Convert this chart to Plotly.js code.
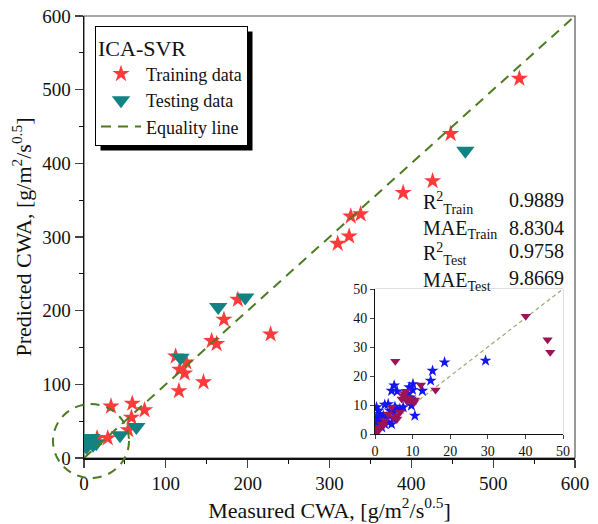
<!DOCTYPE html>
<html>
<head>
<meta charset="utf-8">
<script src="https://cdn.plot.ly/plotly-3.0.1.min.js"></script>
<style>html,body{margin:0;padding:0;background:#fff;}#chart{width:598px;height:524px;}</style>
</head>
<body>
<div id="chart"></div>
<script>
// Main plot data
const trainX = [532, 448, 426, 390, 326, 338, 310, 324, 188, 171, 228, 156, 162, 112, 125, 117, 123, 116, 146, 33, 59, 74, 58, 54, 16, 29];
const trainY = [515, 440, 376, 360, 328, 331, 291, 301, 215, 188, 168, 159, 155, 138, 130, 120, 115, 91, 103, 70, 74, 65, 55, 38, 27, 27];
const testX = [466, 164, 197, 118, 44, 64, 5, 11, 3, 9, 1.5, 15];
const testY = [417, 205, 218, 136, 31, 42, 24, 18, 15, 27, 20, 20];
const equalityLine = [0, 600];

// Inset data (0-50 range)
const insetTrainX = [29.4, 18.5, 15.3, 14.8, 5.1, 10.1, 4.4, 5.9, 10.0, 12.6, 9.1, 10.6, 9.7, 6.6, 5.3, 3.5, 2.6, 4.0, 4.9, 0.4, 0.9, 1.3, 2.2, 0.4, 3.1, 3.5, 4.4, 2.6, 0.6, 0.3, 1.3, 1.8, 4.9, 5.7, 7.5, 8.8, 9.4];
const insetTrainY = [25.3, 24.7, 21.8, 18.4, 16.7, 17.2, 14.9, 14.7, 15.2, 14.9, 16.1, 6.3, 9.8, 8.6, 9.4, 10.3, 10.1, 8.0, 8.0, 9.2, 8.0, 6.9, 6.3, 5.7, 5.7, 4.0, 3.4, 3.4, 4.0, 2.9, 4.6, 2.3, 5.2, 8.3, 9.2, 13.8, 12.6];
const insetTestX = [40.1, 45.9, 46.6, 5.4, 12.2, 16.1, 7.5, 8.2, 8.8, 9.7, 10.4, 9.3, 7.1, 8.4, 10.6, 7.8, 4.4, 3.5, 5.9, 5.9, 6.6, 4.9, 1.3, 0.9, 1.8, 2.2, 0.4, 2.6, 1.1];
const insetTestY = [40.6, 32.5, 28.2, 25.1, 16.9, 15.2, 13.2, 14.7, 12.6, 12.1, 10.9, 11.3, 12.1, 11.5, 11.7, 14.0, 9.2, 6.9, 6.3, 5.2, 7.5, 5.7, 2.3, 1.1, 3.4, 2.9, 0.6, 4.6, 1.7];
const insetLine = [0, 50];

const mainTicks = [0, 100, 200, 300, 400, 500, 600];
const insetTicks = [0, 10, 20, 30, 40, 50];

const serif = 'Liberation Serif, Times New Roman, serif';

const traces = [
  {x: trainX, y: trainY, type: 'scatter', mode: 'markers', name: 'Training data',
   marker: {symbol: 'star', size: 13, color: '#ff3a3a'}, xaxis: 'x', yaxis: 'y'},
  {x: testX, y: testY, type: 'scatter', mode: 'markers', name: 'Testing data',
   marker: {symbol: 'triangle-down', size: 16, color: '#138282'}, xaxis: 'x', yaxis: 'y'},
  {x: equalityLine, y: equalityLine, type: 'scatter', mode: 'lines', name: 'Equality line',
   line: {color: '#4e7a22', width: 2, dash: '10px,7px'}, xaxis: 'x', yaxis: 'y'},
  {x: insetLine, y: insetLine, type: 'scatter', mode: 'lines', showlegend: false,
   line: {color: '#9aa87a', width: 1.2, dash: '4px,3px'}, xaxis: 'x2', yaxis: 'y2'},
  {x: insetTrainX, y: insetTrainY, type: 'scatter', mode: 'markers', showlegend: false,
   marker: {symbol: 'star', size: 9, color: '#1515f0'}, xaxis: 'x2', yaxis: 'y2'},
  {x: insetTestX, y: insetTestY, type: 'scatter', mode: 'markers', showlegend: false,
   marker: {symbol: 'triangle-down', size: 9, color: '#9a1457'}, xaxis: 'x2', yaxis: 'y2'}
];

const W = 598, H = 524, L = 84, R = 23, T = 16, B = 66;
const pw = W - L - R, ph = H - T - B;
function px2x(px) { return (px - L) / pw; }
function py2y(py) { return (H - B - py) / ph; }

const statFont = {family: serif, size: 20, color: '#111'};
function ann(text, px, py) {
  return {text: text, xref: 'paper', yref: 'paper', x: px2x(px), y: py2y(py),
          xanchor: 'left', yanchor: 'middle', showarrow: false, font: statFont};
}

const layout = {
  width: W, height: H,
  margin: {l: L, r: R, t: T, b: B},
  paper_bgcolor: '#fff', plot_bgcolor: '#fff',
  font: {family: serif, color: '#111'},
  showlegend: true,
  legend: {
    x: px2x(95), y: py2y(26), xanchor: 'left', yanchor: 'top',
    bgcolor: '#fff', bordercolor: '#000', borderwidth: 1,
    font: {family: serif, size: 18, color: '#111'},
    title: {text: 'ICA-SVR', font: {family: serif, size: 22, color: '#111'}},
    tracegroupgap: 0, itemwidth: 40
  },
  xaxis: {
    range: [0, 600], tickvals: mainTicks, ticks: 'outside', ticklen: 8, tickwidth: 1.2,
    showline: true, linecolor: '#111', linewidth: 1.5, showgrid: false, zeroline: false,
    tickfont: {family: serif, size: 19, color: '#111'},
    minor: {dtick: 50, ticks: 'outside', ticklen: 4, tickwidth: 1, tickcolor: '#111'},
    title: {text: 'Measured CWA, [g/m<sup>2</sup>/s<sup>0.5</sup>]', font: {family: serif, size: 22, color: '#111'}, standoff: 6},
    domain: [0, 1], anchor: 'y'
  },
  yaxis: {
    range: [0, 600], tickvals: mainTicks, ticks: 'outside', ticklen: 8, tickwidth: 1.2,
    showline: true, linecolor: '#111', linewidth: 1.5, showgrid: false, zeroline: false,
    tickfont: {family: serif, size: 19, color: '#111'},
    minor: {dtick: 50, ticks: 'outside', ticklen: 4, tickwidth: 1, tickcolor: '#111'},
    title: {text: 'Predicted CWA, [g/m<sup>2</sup>/s<sup>0.5</sup>]', font: {family: serif, size: 22, color: '#111'}, standoff: 4},
    domain: [0, 1], anchor: 'x'
  },
  xaxis2: {
    range: [0, 50], tickvals: insetTicks, ticks: 'outside', ticklen: 4, tickwidth: 1,
    showline: true, linecolor: '#111', linewidth: 1, showgrid: false, zeroline: false,
    tickfont: {family: serif, size: 14, color: '#111'},
    domain: [px2x(375), px2x(563)], anchor: 'y2'
  },
  yaxis2: {
    range: [0, 50], tickvals: insetTicks, ticks: 'outside', ticklen: 4, tickwidth: 1,
    showline: true, linecolor: '#111', linewidth: 1, showgrid: false, zeroline: false,
    tickfont: {family: serif, size: 14, color: '#111'},
    domain: [py2y(434), py2y(289)], anchor: 'x2'
  },
  shapes: [
    {type: 'rect', xref: 'paper', yref: 'paper', x0: 0, x1: 1, y0: 0, y1: 1,
     line: {color: '#555', width: 1.2}, layer: 'below'},
    {type: 'rect', xref: 'x2 domain', yref: 'y2 domain', x0: 0, x1: 1, y0: 0, y1: 1,
     line: {color: '#bdbdbd', width: 1}, fillcolor: 'rgba(255,255,255,0)', layer: 'below'},
    {type: 'circle', xref: 'paper', yref: 'paper', x0: px2x(53), x1: px2x(129), y0: py2y(478), y1: py2y(404),
     line: {color: '#4e7a22', width: 2, dash: '9px,7px'}, layer: 'above'}
  ],
  annotations: [
    ann('R<sup>2</sup><sub>Train</sub>', 421, 203),
    ann('0.9889', 507, 200),
    ann('MAE<sub>Train</sub>', 421, 230),
    ann('8.8304', 507, 228),
    ann('R<sup>2</sup><sub>Test</sub>', 421, 254),
    ann('0.9758', 507, 251),
    ann('MAE<sub>Test</sub>', 421, 281),
    ann('9.8669', 507, 278)
  ]
};

Plotly.newPlot('chart', traces, layout, {displayModeBar: false, staticPlot: true}).then(function (gd) {
  const bg = gd.querySelector('.legend .bg');
  if (!bg) return;
  const lb = bg.getBoundingClientRect();
  const cb = gd.getBoundingClientRect();
  const left = lb.left - cb.left, top = lb.top - cb.top;
  const shadow = {type: 'rect', xref: 'paper', yref: 'paper',
    x0: px2x(left + 5), x1: px2x(left + lb.width + 5),
    y0: py2y(top + lb.height + 5), y1: py2y(top + 5),
    line: {width: 0}, fillcolor: '#000', layer: 'above'};
  return Plotly.relayout(gd, {shapes: layout.shapes.concat([shadow])});
});
</script>
</body>
</html>
